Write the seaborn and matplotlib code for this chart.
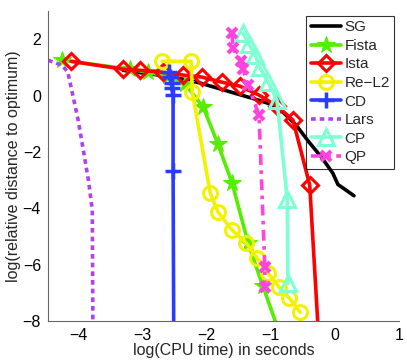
import matplotlib
matplotlib.use("Agg")
import matplotlib.pyplot as plt
import seaborn as sns
import pandas as pd

# ---- data (log CPU time, log relative distance) ----
sg_x = [-3.3, -2.8, -2.4, -2.1, -1.8, -1.5, -1.2, -1.0, -0.8, -0.6, -0.4, -0.2, -0.03, 0.05, 0.3]
sg_y = [0.9, 0.75, 0.6, 0.45, 0.25, 0.05, -0.15, -0.3, -0.6, -1.05, -1.65, -2.2, -2.75, -3.15, -3.55]

fista_x = [-4.25, -3.19, -2.91, -2.60, -2.33, -2.05, -1.82, -1.60, -1.35, -1.12, -0.88]
fista_y = [1.26, 0.94, 0.83, 0.69, 0.41, -0.41, -1.72, -3.10, -5.23, -6.76, -8.3]

ista_x = [-4.11, -3.30, -3.03, -2.68, -2.36, -2.07, -1.76, -1.48, -1.18, -0.90, -0.65, -0.39, -0.24]
ista_y = [1.22, 0.94, 0.90, 0.83, 0.73, 0.66, 0.48, 0.34, 0.02, -0.37, -0.87, -3.17, -9.0]

rel2_x = [-2.69, -2.24, -2.22, -1.94, -1.82, -1.60, -1.38, -1.21, -1.04, -0.87, -0.71, -0.54]
rel2_y = [1.22, 1.22, 0.12, -3.46, -4.13, -4.77, -5.23, -5.76, -6.29, -6.79, -7.18, -7.68]

cd_x = [-2.58, -2.57, -2.54, -2.54, -2.52, -2.52, -2.51]
cd_y = [0.83, 0.66, 0.44, 0.27, 0.02, -2.68, -8.5]

lars_x = [-4.47, -4.25, -4.16, -4.0, -3.84, -3.78, -3.77]
lars_y = [1.26, 1.08, 0.83, -0.87, -3.0, -4.06, -8.5]

cp_x = [-1.43, -1.34, -1.24, -1.17, -1.04, -0.90, -0.74, -0.73]
cp_y = [2.22, 1.83, 1.44, 1.01, 0.48, -0.16, -3.67, -6.65]

qp_x = [-1.60, -1.59, -1.46, -1.43, -1.35, -1.18, -1.09, -1.09]
qp_y = [2.22, 1.68, 1.22, 0.94, 0.37, -0.69, -6.08, -6.79]

x_ticks = [-4, -3, -2, -1, 0, 1]
y_ticks = [-8, -6, -4, -2, 0, 2]

sns.set_style("white")
plt.rcParams['font.family'] = ['Liberation Sans', 'DejaVu Sans']

fig = plt.figure(figsize=(4.07, 3.60), dpi=100)
ax = fig.add_axes([0.118, 0.108, 0.862, 0.861])

series = [
    ("SG", sg_x, sg_y, dict(color="black", linestyle="-", marker=None)),
    ("Fista", fista_x, fista_y, dict(color="#55ee00", linestyle="-", marker="*", markersize=13,
                                     markerfacecolor="#55ee00", markeredgecolor="#55ee00")),
    ("Ista", ista_x, ista_y, dict(color="#ff0000", linestyle="-", marker="D", markersize=8.5,
                                  markerfacecolor="none", markeredgecolor="#ff0000", markeredgewidth=2.2)),
    ("Re\u2212L2", rel2_x, rel2_y, dict(color="#f2f200", linestyle="-", marker="o", markersize=10,
                                        markerfacecolor="none", markeredgecolor="#f2f200", markeredgewidth=2.2)),
    ("CD", cd_x, cd_y, dict(color="#2a3cff", linestyle="-", marker="+", markersize=11,
                            markeredgewidth=2.5, markeredgecolor="#2a3cff")),
    ("Lars", lars_x, lars_y, dict(color="#b040f0", linestyle=(0, (1.3, 1.1)), marker=None)),
    ("CP", cp_x, cp_y, dict(color="#7fffd4", linestyle="-", marker="^", markersize=12,
                            markerfacecolor="none", markeredgecolor="#7fffd4", markeredgewidth=2.2)),
    ("QP", qp_x, qp_y, dict(color="#ff44dd", linestyle=(0, (3, 1.5, 1, 1.5)), marker="x", markersize=7,
                            markeredgewidth=3, markeredgecolor="#ff44dd")),
]

for name, xs, ys, kw in series:
    df = pd.DataFrame({"x": xs, "y": ys})
    sns.lineplot(data=df, x="x", y="y", ax=ax, sort=False, estimator=None,
                 linewidth=2.6, label=name, **kw)

ax.set_xlim(-4.47, 1.0)
ax.set_ylim(-8, 3)
ax.set_xticks(x_ticks)
ax.set_yticks(y_ticks)
ax.set_xticklabels([("\u2212%d" % -t) if t < 0 else str(t) for t in x_ticks])
ax.set_yticklabels([("\u2212%d" % -t) if t < 0 else str(t) for t in y_ticks])
ax.tick_params(direction="in", length=4, width=0.8, colors="#555555", labelcolor="black",
               labelsize=11.5, pad=5)
for s in ["top", "right"]:
    ax.spines[s].set_visible(False)
for s in ["left", "bottom"]:
    ax.spines[s].set_color("#666666")
    ax.spines[s].set_linewidth(0.8)

ax.set_xlabel("log(CPU time) in seconds", fontsize=11.5, labelpad=0)
ax.set_ylabel("log(relative distance to optimum)", fontsize=11.5, labelpad=1)

leg = ax.legend(loc="upper right", fontsize=11, frameon=True, fancybox=False,
                handlelength=2.0, handletextpad=0.2, labelspacing=0.3,
                borderaxespad=0.3, borderpad=0.3)
leg.get_frame().set_edgecolor("black")
leg.get_frame().set_linewidth(0.8)
leg.get_frame().set_facecolor("none")

fig.savefig("out.png", dpi=100)
